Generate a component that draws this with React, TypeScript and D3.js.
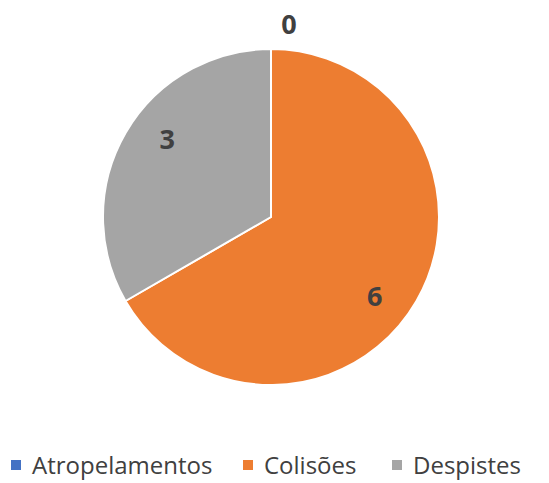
import React from "react";
import * as d3 from "d3";

const categories = ["Atropelamentos", "Colisões", "Despistes"];
const values = [0, 6, 3];
const colors = ["#4472C4", "#ED7D31", "#A5A5A5"];

export default function App() {
  const W = 549, H = 483;
  const cx = 271, cy = 217, r = 168;
  const pie = d3.pie<number>().sort(null).value((d) => d)(values);
  const arc = d3.arc<d3.PieArcDatum<number>>().innerRadius(0).outerRadius(r);
  const labelR = 130;
  const labelShift = (7 * Math.PI) / 180;
  const legendX = [11, 243, 392];
  return (
    <svg width={W} height={H} style={{ position: "absolute", left: 0, top: 0, fontFamily: "'Open Sans', sans-serif" }}>
      <rect width={W} height={H} fill="#fff" />
      <g transform={`translate(${cx},${cy})`}>
        {pie.map((p, i) => (
          <path key={i} d={arc(p) || ""} fill={colors[i]} stroke="#fff" strokeWidth={2} strokeLinejoin="round" />
        ))}
        {pie.map((p, i) => {
          const a = (p.startAngle + p.endAngle) / 2 + labelShift;
          let x = labelR * Math.sin(a);
          let y = -labelR * Math.cos(a);
          if (p.value === 0) {
            x = 18;
            y = -194;
          }
          return (
            <text key={"l" + i} x={x} y={y} textAnchor="middle" dominantBaseline="central"
              fontSize={27} fontWeight="bold" fill="#404040">
              {p.value}
            </text>
          );
        })}
      </g>
      {categories.map((c, i) => (
        <g key={c} transform={`translate(${legendX[i]},474)`}>
          <rect x={0} y={-14} width={10} height={10} fill={colors[i]} />
          <text x={21} y={0} fontSize={24} fill="#404040">{c}</text>
        </g>
      ))}
    </svg>
  );
}
